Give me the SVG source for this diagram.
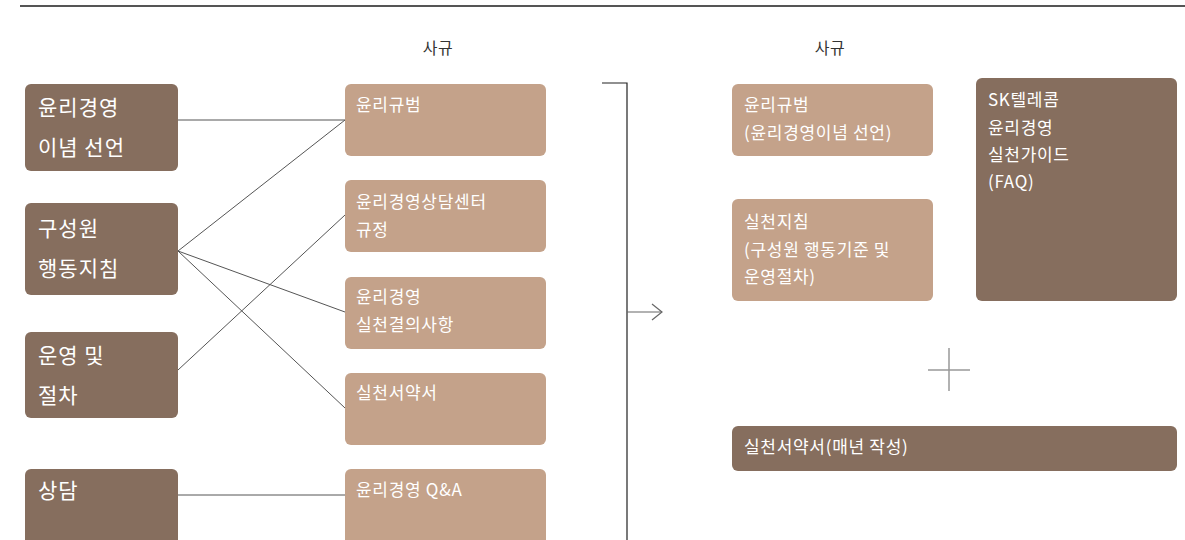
<svg xmlns="http://www.w3.org/2000/svg" width="1185" height="540" viewBox="0 0 1185 540">
<style>
.dark{fill:#866e5e}
.light{fill:#c4a28a}
.tl{font-family:"Noto Sans CJK KR","Noto Sans",sans-serif;font-size:21px;letter-spacing:1px;fill:#ffffff}
.ts{font-family:"Noto Sans CJK KR","Noto Sans",sans-serif;font-size:17px;letter-spacing:0.7px;fill:#ffffff}
.hd{font-family:"Noto Sans CJK KR","Noto Sans",sans-serif;font-size:16px;letter-spacing:0.5px;fill:#333333;text-anchor:middle}
.conn{stroke:#555555;stroke-width:1;fill:none}
</style>
<defs>
<marker id="chev" viewBox="0 0 12 18" refX="11" refY="9" markerWidth="12" markerHeight="18" markerUnits="userSpaceOnUse" orient="auto">
<path d="M1,1 L11,9 L1,17" fill="none" stroke="#666666" stroke-width="1.2"/>
</marker>
</defs>
<rect width="1185" height="540" fill="#ffffff"/>
<line x1="20" y1="6" x2="1185" y2="6" stroke="#555555" stroke-width="2"/>
<text class="hd" x="438" y="54">사규</text>
<text class="hd" x="830" y="54">사규</text>

<g id="connectors">
<line class="conn" x1="178" y1="120" x2="345" y2="120"/>
<line class="conn" x1="178" y1="251" x2="345" y2="120"/>
<line class="conn" x1="178" y1="251" x2="345" y2="312"/>
<line class="conn" x1="178" y1="251" x2="345" y2="408"/>
<line class="conn" x1="178" y1="370" x2="345" y2="215"/>
<line class="conn" x1="178" y1="495" x2="345" y2="495"/>
<polyline points="602,83 627,83 627,540" fill="none" stroke="#222222" stroke-width="1.2"/>
<line x1="627" y1="312" x2="662" y2="312" stroke="#666666" stroke-width="1.2" marker-end="url(#chev)"/>
</g>

<g id="n-left1"><rect class="dark" x="25" y="84" width="153" height="87" rx="6"/><text class="tl" x="38" y="115">윤리경영</text><text class="tl" x="38" y="155">이념 선언</text></g>
<g id="n-left2"><rect class="dark" x="25" y="203" width="153" height="92" rx="6"/><text class="tl" x="38" y="236">구성원</text><text class="tl" x="38" y="276">행동지침</text></g>
<g id="n-left3"><rect class="dark" x="25" y="332" width="153" height="86" rx="6"/><text class="tl" x="38" y="363">운영 및</text><text class="tl" x="38" y="403">절차</text></g>
<g id="n-left4"><rect class="dark" x="25" y="469" width="153" height="80" rx="6"/><text class="tl" x="38" y="498">상담</text></g>

<g id="n-r1"><rect class="light" x="345" y="84" width="201" height="72" rx="6"/><text class="ts" x="356" y="111">윤리규범</text></g>
<g id="n-r2"><rect class="light" x="345" y="180" width="201" height="72" rx="6"/><text class="ts" x="356" y="208">윤리경영상담센터</text><text class="ts" x="356" y="236">규정</text></g>
<g id="n-r3"><rect class="light" x="345" y="277" width="201" height="72" rx="6"/><text class="ts" x="356" y="303">윤리경영</text><text class="ts" x="356" y="331">실천결의사항</text></g>
<g id="n-r4"><rect class="light" x="345" y="373" width="201" height="72" rx="6"/><text class="ts" x="356" y="399">실천서약서</text></g>
<g id="n-r5"><rect class="light" x="345" y="469" width="201" height="80" rx="6"/><text class="ts" x="356" y="496">윤리경영 Q&amp;A</text></g>

<g id="n-p1"><rect class="light" x="732" y="84" width="201" height="72" rx="6"/><text class="ts" x="744" y="111">윤리규범</text><text class="ts" x="744" y="139">(윤리경영이념 선언)</text></g>
<g id="n-p2"><rect class="light" x="732" y="199" width="201" height="102" rx="6"/><text class="ts" x="744" y="228">실천지침</text><text class="ts" x="744" y="256">(구성원 행동기준 및</text><text class="ts" x="744" y="283">운영절차)</text></g>
<g id="n-p3"><rect class="dark" x="976" y="78" width="201" height="223" rx="6"/><text class="ts" x="988" y="106">SK텔레콤</text><text class="ts" x="988" y="134">윤리경영</text><text class="ts" x="988" y="161">실천가이드</text><text class="ts" x="988" y="188">(FAQ)</text></g>
<g id="plus"><line x1="928" y1="370" x2="970" y2="370" stroke="#999999" stroke-width="1.5"/><line x1="949" y1="348" x2="949" y2="391" stroke="#999999" stroke-width="1.5"/></g>
<g id="n-p4"><rect class="dark" x="732" y="426" width="445" height="45" rx="6"/><text class="ts" x="744" y="453">실천서약서(매년 작성)</text></g>
</svg>
